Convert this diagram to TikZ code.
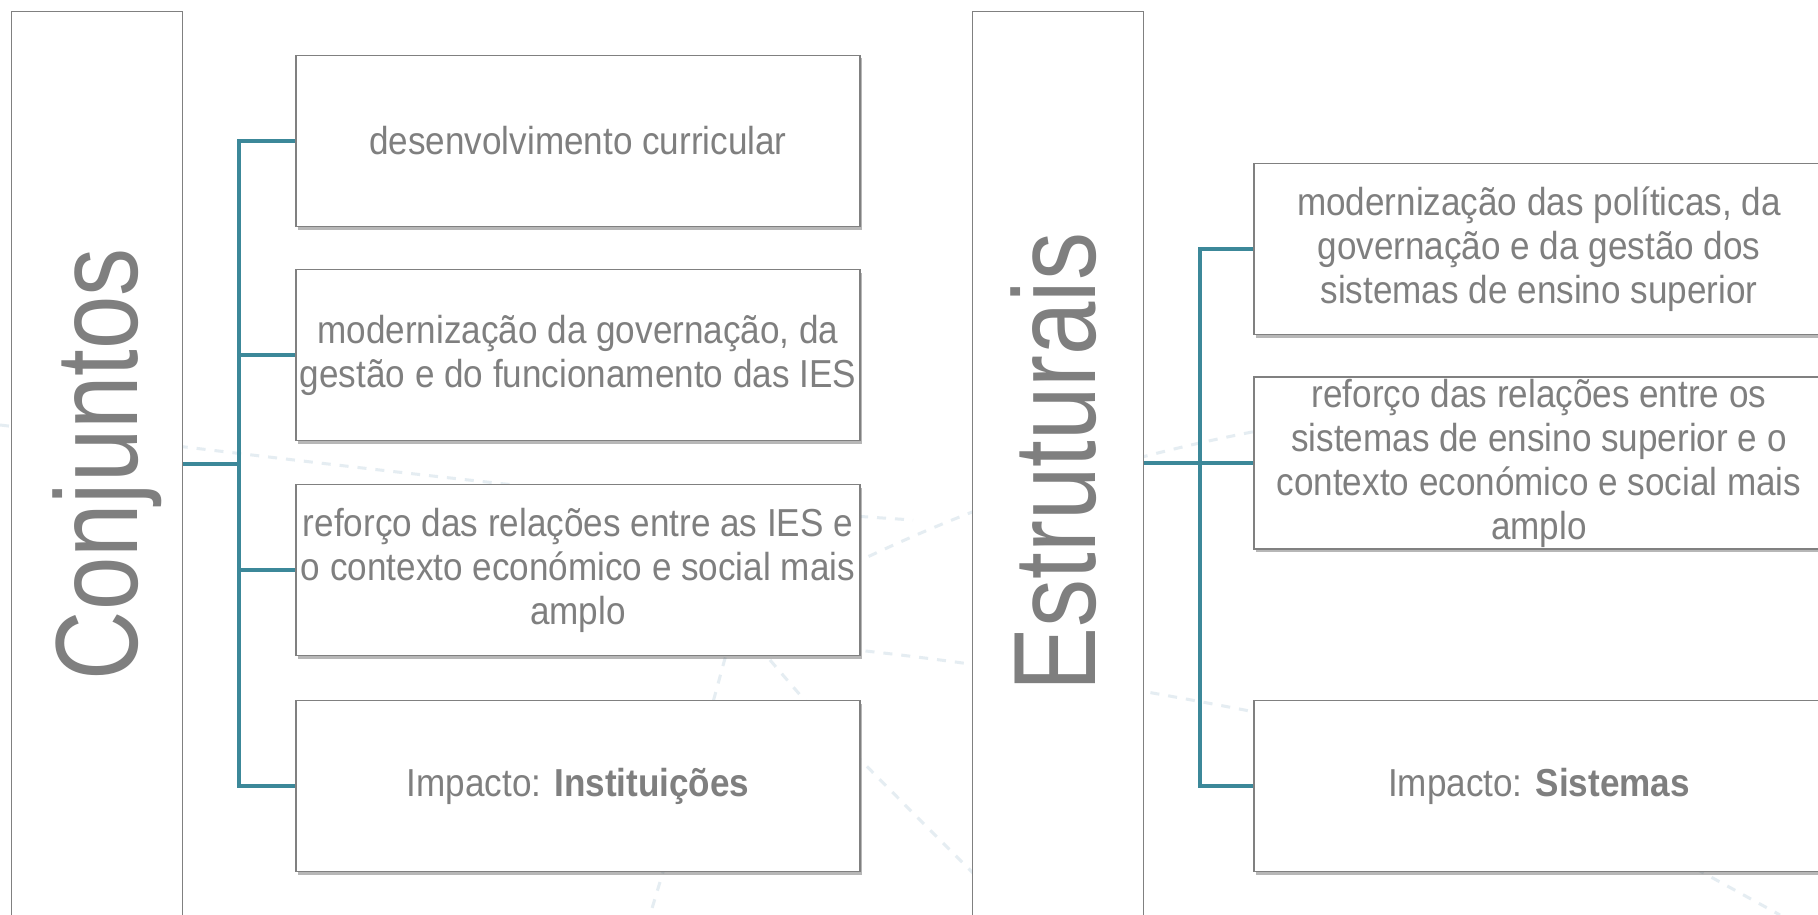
\documentclass[tikz,border=0pt]{standalone}
\usepackage{fontspec}
\setmainfont[FakeStretch=0.9]{Liberation Sans}
\newfontfamily\bigfont[FakeStretch=0.82]{Liberation Sans}
\usetikzlibrary{shadows}
\definecolor{txtgray}{RGB}{127,127,127}
\definecolor{bordergray}{RGB}{128,128,128}
\definecolor{teal}{RGB}{60,136,153}
\definecolor{bgline}{RGB}{229,237,242}
\tikzset{
  box/.style={draw=bordergray, line width=1.4pt, fill=white, minimum width=564pt, minimum height=171pt,
    inner sep=2pt, align=center, text=txtgray, font=\fontsize{39}{44}\selectfont,
    drop shadow={shadow xshift=1.5pt, shadow yshift=-3pt, opacity=0.4, fill=black!70}},
  tallbox/.style={draw=bordergray, line width=1.4pt, fill=white, minimum width=171pt, minimum height=1000pt,
    anchor=north west, inner sep=0pt},
  bigtext/.style={rotate=90, anchor=base, text=txtgray, font=\bigfont\fontsize{117}{130}\selectfont, inner sep=0pt},
  conn/.style={draw=teal, line width=4pt, line join=miter},
  bgdash/.style={draw=bgline, line width=3pt, dash pattern=on 9pt off 9pt}
}
\begin{document}
\begin{tikzpicture}[x=1pt,y=-1pt]
\useasboundingbox[fill=white] (0,0) rectangle (1818,915);
% faint background decoration
\draw[bgdash] (0,425) .. controls (300,460) and (600,500) .. (913,520);
\draw[bgdash] (820,580) .. controls (950,515) and (1100,455) .. (1320,420);
\draw[bgdash] (740,640) .. controls (900,650) and (1100,680) .. (1320,725);
\draw[bgdash] (730,640) .. controls (700,750) .. (650,915);
\draw[bgdash] (770,660) .. controls (830,730) .. (980,880);
\draw[bgdash] (1680,860) -- (1780,915);
% tall boxes
\node[tallbox] (T1) at (11,11) {};
\node[tallbox] (T2) at (972,11) {};
\node[bigtext] (C1) at (137,464) {Conjuntos};
\node[bigtext] (C2) at (1095,462) {Estruturais};
% left boxes
\node[box] (B1) at (578,141) {desenvolvimento curricular};
\node[box] (B2) at (578,355) {modernização da governação, da\\gestão e do funcionamento das IES};
\node[box] (B3) at (578,570) {reforço das relações entre as IES e\\o contexto económico e social mais\\amplo};
\node[box] (B4) at (578,786) {Impacto: \textbf{Instituições}};
% right boxes
\node[box, minimum width=570pt] (R1) at (1539,249) {modernização das políticas, da\\governação e da gestão dos\\sistemas de ensino superior};
\node[box, minimum width=570pt] (R2) at (1539,463) {reforço das relações entre os\\sistemas de ensino superior e o\\contexto económico e social mais\\amplo};
\node[box, minimum width=570pt] (R3) at (1539,786) {Impacto: \textbf{Sistemas}};
% left connectors
\coordinate (J1) at (239,464);
\draw[conn] (J1 -| T1.east) -- (J1);
\draw[conn] (B1.west) -- (J1 |- B1.west) -- (J1 |- B4.west) -- (B4.west);
\draw[conn] (J1 |- B2.west) -- (B2.west);
\draw[conn] (J1 |- B3.west) -- (B3.west);
% right connectors
\coordinate (J2) at (1200,463);
\draw[conn] (J2 -| T2.east) -- (R2.west);
\draw[conn] (R1.west) -- (J2 |- R1.west) -- (J2 |- R3.west) -- (R3.west);
\end{tikzpicture}
\end{document}
